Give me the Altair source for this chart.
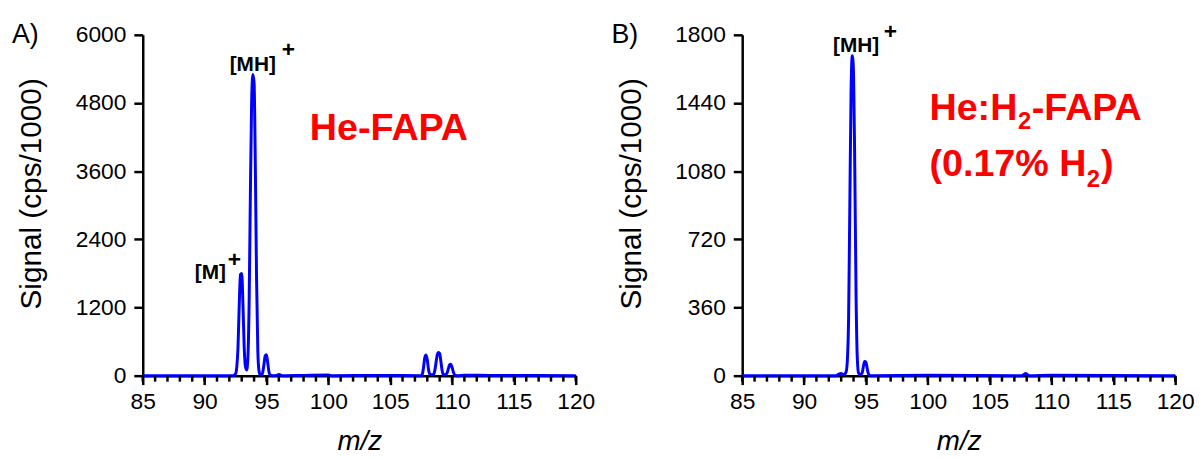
import altair as alt
import pandas as pd

# ---------------- data ----------------
mz_a = [85.0, 88.0, 90.0, 92.0, 92.3, 92.5, 92.6, 92.7, 92.8, 92.9, 93.0, 93.1, 93.2, 93.3, 93.4,
        93.5, 93.6, 93.7, 93.8, 93.9, 94.0, 94.1, 94.2, 94.3, 94.4, 94.5,
        94.6, 94.7, 94.8, 94.9, 95.0, 95.1, 95.2, 95.3, 95.5, 95.8, 96.0, 96.3, 98.0, 100.0, 100.3,
        104.0, 107.5, 107.6, 107.7, 107.8, 107.9, 108.0, 108.1, 108.2, 108.35,
        108.5, 108.6, 108.7, 108.8, 108.9, 109.0, 109.1, 109.2, 109.3, 109.45,
        109.6, 109.7, 109.8, 109.9, 110.0, 110.1, 110.2, 110.4, 111.0, 113.0, 116.0, 120.0]
sig_a = [0, 0, 0, 0, 0, 30, 150, 500, 1250, 1780, 1800, 1250, 500, 160, 100,
         320, 1300, 3200, 4800, 5300, 5150, 3700, 1700, 450, 80, 15,
         10, 60, 200, 350, 370, 230, 70, 10, 0, 5, 20, 0, 5, 10, 0,
         5, 0, 30, 150, 320, 365, 280, 110, 30, 15,
         20, 80, 220, 360, 410, 390, 250, 90, 20, 15,
         50, 120, 190, 200, 150, 70, 15, 0, 8, 5, 5, 0]

mz_b = [85.0, 90.0, 92.6, 92.8, 93.0, 93.2, 93.4, 93.5, 93.6, 93.7, 93.8, 93.9, 94.0,
        94.1, 94.2, 94.3, 94.4, 94.5, 94.7, 94.8, 94.9, 95.0, 95.1, 95.2, 95.4,
        100.0, 107.6, 107.8, 107.9, 108.0, 108.2, 110.0, 120.0]
sig_b = [0, 0, 0, 8, 12, 5, 20, 80, 300, 900, 1500, 1690, 1600,
         1100, 450, 100, 15, 5, 15, 50, 75, 72, 40, 10, 0,
         2, 0, 8, 12, 9, 0, 2, 0]

x_ticks = [85, 90, 95, 100, 105, 110, 115, 120]
minor_ticks = list(range(85, 121))
y_ticks_a = [0, 1200, 2400, 3600, 4800, 6000]
y_ticks_b = [0, 360, 720, 1080, 1440, 1800]

# annotations (text, m/z, signal)
ion_a_center_text = ["[MH]"]
ion_a_center_mz = [93.89]
ion_a_center_sig = [5372]
ion_a_right_text = ["[M]"]
ion_a_right_mz = [91.73]
ion_a_right_sig = [1709]
plus_a_mz = [96.77, 92.41]
plus_a_sig = [5738, 2032]

ion_b_center_text = ["[MH]"]
ion_b_center_mz = [94.21]
ion_b_center_sig = [1711]
plus_b_mz = [96.97]
plus_b_sig = [1816]

title_a_text = ["He-FAPA"]
title_a_mz = [104.90]
title_a_sig = [4151]

title_b_main = ["He:H", "-FAPA", "(0.17% H", ")"]
title_b_main_mz = [100.14, 108.40, 100.14, 114.0]
title_b_main_sig = [1350, 1350, 1052, 1052]
title_b_sub = ["2", "2"]
title_b_sub_mz = [107.30, 112.85]
title_b_sub_sig = [1303, 994]

FONT = "Liberation Sans"
W, H = 437, 344
BLUE = "#0000FF"
RED = "#FF0000"


def make_panel(mz, sig, yticks, ymax, letter, texts):
    xs = alt.Scale(domain=[85, 120], nice=False, zero=False)
    ys = alt.Scale(domain=[0, ymax], nice=False, zero=True)
    xaxis = alt.Axis(values=x_ticks, format="d", title="m/z", titleFontStyle="italic",
                     titleFontWeight="normal", titleFontSize=28, titleFont=FONT, titleColor="black",
                     titlePadding=15, labelFont=FONT, labelFontSize=23, labelColor="black",
                     labelPadding=6, tickSize=9, tickWidth=2.5, tickColor="black",
                     domainColor="black", domainWidth=2.5, grid=False, labelFlush=False)
    yaxis = alt.Axis(values=yticks, format="d", title="Signal (cps/1000)", titleFontWeight="normal",
                     titleFontSize=30, titleFont=FONT, titleColor="black", titleX=-97, titleY=160,
                     labelFont=FONT, labelFontSize=23, labelColor="black", labelPadding=8,
                     tickSize=9, tickWidth=2.5, tickColor="black", domainColor="black",
                     domainWidth=2.5, grid=False, labelFlush=False)
    X = lambda f: alt.X(f, scale=xs, axis=xaxis)
    Y = lambda f: alt.Y(f, scale=ys, axis=yaxis)

    layers = []
    df = pd.DataFrame({"mz": mz, "signal": sig})
    layers.append(alt.Chart(df).mark_line(color=BLUE, strokeWidth=3, interpolate="monotone").encode(
        x=X("mz:Q"), y=Y("signal:Q")))
    layers.append(alt.Chart(pd.DataFrame({"mz": minor_ticks})).mark_rule(color="black", strokeWidth=2.5).encode(
        x=X("mz:Q"), y=alt.value(H), y2=alt.value(H + 6)))
    for (t, m, s, size, color, align, baseline) in texts:
        layers.append(alt.Chart(pd.DataFrame({"mz": m, "signal": s, "label": t})).mark_text(
            font=FONT, fontSize=size, fontWeight="bold", color=color, align=align, baseline=baseline
        ).encode(x=X("mz:Q"), y=Y("signal:Q"), text="label:N"))
    layers.append(alt.Chart(pd.DataFrame({"label": [letter]})).mark_text(
        font=FONT, fontSize=27, color="black", align="left", baseline="alphabetic"
    ).encode(x=alt.value(-132), y=alt.value(8), text="label:N"))
    return alt.layer(*layers).properties(width=W, height=H)


chart_a = make_panel(mz_a, sig_a, y_ticks_a, 6000, "A)", [
    (ion_a_center_text, ion_a_center_mz, ion_a_center_sig, 21, "black", "center", "alphabetic"),
    (ion_a_right_text, ion_a_right_mz, ion_a_right_sig, 21, "black", "right", "alphabetic"),
    (["+"] * len(plus_a_mz), plus_a_mz, plus_a_sig, 23, "black", "center", "middle"),
    (title_a_text, title_a_mz, title_a_sig, 38, RED, "center", "alphabetic"),
])

chart_b = make_panel(mz_b, sig_b, y_ticks_b, 1800, "B)", [
    (ion_b_center_text, ion_b_center_mz, ion_b_center_sig, 21, "black", "center", "alphabetic"),
    (["+"] * len(plus_b_mz), plus_b_mz, plus_b_sig, 23, "black", "center", "middle"),
    (title_b_main, title_b_main_mz, title_b_main_sig, 38, RED, "left", "alphabetic"),
    (title_b_sub, title_b_sub_mz, title_b_sub_sig, 24, RED, "left", "alphabetic"),
])

chart = alt.hconcat(chart_a, chart_b, spacing=168, bounds="flush").properties(
    padding={"left": 4, "top": 10, "right": 0, "bottom": 0},
    background="white",
).configure_view(strokeWidth=0)

chart.save("out.html", embed_options={"renderer": "svg", "actions": False})
